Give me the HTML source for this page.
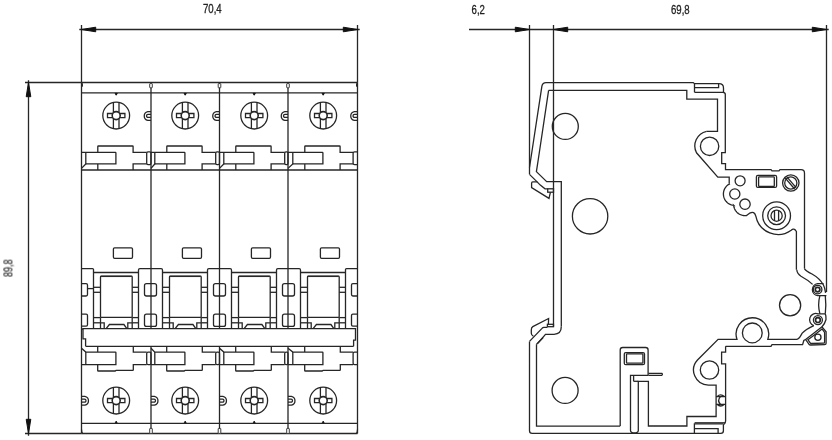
<!DOCTYPE html>
<html><head><meta charset="utf-8"><style>
html,body{margin:0;padding:0;background:#fff;}
body{width:832px;height:440px;overflow:hidden;}
svg{display:block;}
svg .ln{fill:none;stroke:#262626;stroke-width:1.3;}
svg .ln path.fl{fill:#111;stroke:#111;stroke-width:1;stroke-linejoin:round;}
text{font-family:"Liberation Sans",sans-serif;font-size:12px;fill:#222;stroke:#222;stroke-width:0.3;}
</style></head><body>
<svg width="832" height="440" viewBox="0 0 832 440">
<rect width="832" height="440" fill="#fff"/>
<g class="ln">
<path d="M81.5 25L81.5 82.5"/>
<path d="M357.5 25L357.5 82.5"/>
<path d="M79.3 29.5L359.7 29.5"/>
<path class="fl" d="M81.5 29.5L95.7 27.2L95.7 31.8Z"/>
<path class="fl" d="M357.5 29.5L343.3 31.8L343.3 27.2Z"/>
<path d="M25 82.5L81.5 82.5"/>
<path d="M25 433.5L81.5 433.5"/>
<path d="M28.5 80.3L28.5 435.7"/>
<path class="fl" d="M28.5 82.5L30.8 96.7L26.2 96.7Z"/>
<path class="fl" d="M28.5 433.5L26.2 419.3L30.8 419.3Z"/>
<path d="M469 29.5L828.7 29.5"/>
<path d="M529.5 25L529.5 174.3"/>
<path d="M553.5 25L553.5 326.6"/>
<path d="M826.5 25L826.5 292"/>
<path class="fl" d="M529.5 29.5L515.3 31.8L515.3 27.2Z"/>
<path class="fl" d="M553.5 29.5L567.7 27.2L567.7 31.8Z"/>
<path class="fl" d="M826.5 29.5L812.3 31.8L812.3 27.2Z"/>
<path d="M81.5 82.5L357.5 82.5"/>
<path d="M81.5 92.8L357.5 92.8"/>
<path d="M81.5 170L357.5 170"/>
<path d="M81.5 423.3L357.5 423.3"/>
<path d="M81.5 433.5L357.5 433.5"/>
<path d="M85.6 346.3L353.6 346.3"/>
<path d="M81.5 82.5L81.5 433.5"/>
<path d="M151 82.5L151 328.6"/>
<path d="M151 346.3L151 433.5"/>
<path d="M219.5 82.5L219.5 328.6"/>
<path d="M219.5 346.3L219.5 433.5"/>
<path d="M288 82.5L288 328.6"/>
<path d="M288 346.3L288 433.5"/>
<path d="M357.5 82.5L357.5 433.5"/>
<circle cx="116.2" cy="115.6" r="13.4"/>
<path d="M113.4 102.5L113.4 112.74"/>
<path d="M113.4 118.46L113.4 128.7"/>
<path d="M119 102.5L119 112.74"/>
<path d="M119 118.46L119 128.7"/>
<path d="M112.8 113.5H107.5V117.7H112.8"/>
<path d="M119.6 113.5H124.9V117.7H119.6"/>
<circle cx="116.2" cy="115.6" r="4" stroke-width="1.6"/>
<path class="fl" d="M115.1 93.4L117.3 93.4L116.2 95.2Z"/>
<path d="M151 111.6H147.8A4.5 4.5 0 0 0 147.8 120.4H151"/>
<path d="M151 114.4H148A1.5 1.5 0 0 0 148 117.4H151"/>
<path d="M97.8 152.4V146.6Q97.8 146 98.4 146H132.5 Q133.1 146 133.1 146.6V152.4H146.7"/>
<path d="M81.5 152.4H115.4Q115.9 152.4 115.9 152.9V163.9H85.8"/>
<path d="M85.8 152.4V163.9L81.5 168.4"/>
<path d="M97.8 163.9L97.8 170"/>
<path d="M133.1 170V163.9H146.7"/>
<rect x="146.7" y="151.9" width="4.3" height="12.7" rx="1.3"/>
<circle cx="116.2" cy="400.6" r="13.4"/>
<path d="M113.4 387.5L113.4 397.74"/>
<path d="M113.4 403.46L113.4 413.7"/>
<path d="M119 387.5L119 397.74"/>
<path d="M119 403.46L119 413.7"/>
<path d="M112.8 398.5H107.5V402.7H112.8"/>
<path d="M119.6 398.5H124.9V402.7H119.6"/>
<circle cx="116.2" cy="400.6" r="4" stroke-width="1.6"/>
<path class="fl" d="M115.3 422.6L117.1 422.6L116.2 421.2Z"/>
<path d="M81.5 396.4H84.9A4.5 4.5 0 0 1 84.9 405.2H81.5"/>
<path d="M81.5 399.2H84.5A1.5 1.5 0 0 1 84.5 402.2H81.5"/>
<path d="M81.5 348.2L85.8 352.1H115.4Q115.9 352.1 115.9 352.6V364.6H81.5"/>
<path d="M85.8 352.1L85.8 364.6"/>
<path d="M97.7 346.3L97.7 352.1"/>
<path d="M97.7 364.6V370.4Q97.7 371 98.3 371H115.1L116.1 370.4H132.7Q133.3 370.4 133.3 369.8V364.6H146.7"/>
<path d="M133.3 346.3V352.1H146.7"/>
<rect x="146.7" y="352.1" width="4.3" height="12.5" rx="1.3"/>
<rect x="113.4" y="247.8" width="19.1" height="10.5" rx="1.2"/>
<rect x="100.5" y="276.1" width="31.7" height="41.3" rx="0.8"/>
<path d="M101.1 276.4L131.6 276.4"/>
<path d="M93.5 287.3L100.5 287.3"/>
<path d="M132.2 287.3L138.5 287.3"/>
<path d="M93.5 292.3L100.5 292.3"/>
<path d="M132.2 292.3L138.5 292.3"/>
<path d="M93.5 317.6L100.5 317.6"/>
<path d="M132.2 317.6L138.5 317.6"/>
<path d="M93.5 322.8L100.5 322.8"/>
<path d="M132.2 322.8L138.5 322.8"/>
<path d="M93.5 272.5L138.5 272.5"/>
<path d="M100.5 322.8H104.2V328.6"/>
<path d="M132.2 322.8H127.8V328.6"/>
<path d="M100.5 317.4L100.5 328.6"/>
<path d="M132.2 317.4L132.2 328.6"/>
<path d="M106.1 328.6L109.4 324.5H123.9L126.9 328.6"/>
<circle cx="185.2" cy="115.6" r="13.4"/>
<path d="M182.4 102.5L182.4 112.74"/>
<path d="M182.4 118.46L182.4 128.7"/>
<path d="M188 102.5L188 112.74"/>
<path d="M188 118.46L188 128.7"/>
<path d="M181.8 113.5H176.5V117.7H181.8"/>
<path d="M188.6 113.5H193.9V117.7H188.6"/>
<circle cx="185.2" cy="115.6" r="4" stroke-width="1.6"/>
<path class="fl" d="M184.1 93.4L186.3 93.4L185.2 95.2Z"/>
<path d="M219.5 111.6H216.3A4.5 4.5 0 0 0 216.3 120.4H219.5"/>
<path d="M219.5 114.4H216.5A1.5 1.5 0 0 0 216.5 117.4H219.5"/>
<path d="M166.8 152.4V146.6Q166.8 146 167.4 146H201.5 Q202.1 146 202.1 146.6V152.4H215.7"/>
<path d="M151 152.4H184.4Q184.9 152.4 184.9 152.9V163.9H154.8"/>
<path d="M154.8 152.4V163.9L151 168.4"/>
<path d="M166.8 163.9L166.8 170"/>
<path d="M202.1 170V163.9H215.7"/>
<rect x="215.7" y="151.9" width="3.8" height="12.7" rx="1.3"/>
<rect x="149.7" y="83.6" width="2.6" height="4.2" rx="0.5" stroke-width="0.9" fill="#fff"/>
<rect x="149.7" y="428.4" width="2.6" height="5" rx="0.5" stroke-width="0.9" fill="#fff"/>
<circle cx="185.2" cy="400.6" r="13.4"/>
<path d="M182.4 387.5L182.4 397.74"/>
<path d="M182.4 403.46L182.4 413.7"/>
<path d="M188 387.5L188 397.74"/>
<path d="M188 403.46L188 413.7"/>
<path d="M181.8 398.5H176.5V402.7H181.8"/>
<path d="M188.6 398.5H193.9V402.7H188.6"/>
<circle cx="185.2" cy="400.6" r="4" stroke-width="1.6"/>
<path class="fl" d="M184.3 422.6L186.1 422.6L185.2 421.2Z"/>
<path d="M151 396.4H154.4A4.5 4.5 0 0 1 154.4 405.2H151"/>
<path d="M151 399.2H154A1.5 1.5 0 0 1 154 402.2H151"/>
<path d="M151 348.2L154.8 352.1H184.4Q184.9 352.1 184.9 352.6V364.6H151"/>
<path d="M154.8 352.1L154.8 364.6"/>
<path d="M166.7 346.3L166.7 352.1"/>
<path d="M166.7 364.6V370.4Q166.7 371 167.3 371H184.1L185.1 370.4H201.7Q202.3 370.4 202.3 369.8V364.6H215.7"/>
<path d="M202.3 346.3V352.1H215.7"/>
<rect x="215.7" y="352.1" width="3.8" height="12.5" rx="1.3"/>
<rect x="182.4" y="247.8" width="19.1" height="10.5" rx="1.2"/>
<rect x="169.5" y="276.1" width="31.7" height="41.3" rx="0.8"/>
<path d="M170.1 276.4L200.6 276.4"/>
<path d="M162.5 287.3L169.5 287.3"/>
<path d="M201.2 287.3L207.5 287.3"/>
<path d="M162.5 292.3L169.5 292.3"/>
<path d="M201.2 292.3L207.5 292.3"/>
<path d="M162.5 317.6L169.5 317.6"/>
<path d="M201.2 317.6L207.5 317.6"/>
<path d="M162.5 322.8L169.5 322.8"/>
<path d="M201.2 322.8L207.5 322.8"/>
<path d="M162.5 272.5L207.5 272.5"/>
<path d="M169.5 322.8H173.2V328.6"/>
<path d="M201.2 322.8H196.8V328.6"/>
<path d="M169.5 317.4L169.5 328.6"/>
<path d="M201.2 317.4L201.2 328.6"/>
<path d="M175.1 328.6L178.4 324.5H192.9L195.9 328.6"/>
<circle cx="254.2" cy="115.6" r="13.4"/>
<path d="M251.4 102.5L251.4 112.74"/>
<path d="M251.4 118.46L251.4 128.7"/>
<path d="M257 102.5L257 112.74"/>
<path d="M257 118.46L257 128.7"/>
<path d="M250.8 113.5H245.5V117.7H250.8"/>
<path d="M257.6 113.5H262.9V117.7H257.6"/>
<circle cx="254.2" cy="115.6" r="4" stroke-width="1.6"/>
<path class="fl" d="M253.1 93.4L255.3 93.4L254.2 95.2Z"/>
<path d="M288 111.6H284.8A4.5 4.5 0 0 0 284.8 120.4H288"/>
<path d="M288 114.4H285A1.5 1.5 0 0 0 285 117.4H288"/>
<path d="M235.8 152.4V146.6Q235.8 146 236.4 146H270.5 Q271.1 146 271.1 146.6V152.4H284.7"/>
<path d="M219.5 152.4H253.4Q253.9 152.4 253.9 152.9V163.9H223.8"/>
<path d="M223.8 152.4V163.9L219.5 168.4"/>
<path d="M235.8 163.9L235.8 170"/>
<path d="M271.1 170V163.9H284.7"/>
<rect x="284.7" y="151.9" width="3.3" height="12.7" rx="1.3"/>
<rect x="218.2" y="83.6" width="2.6" height="4.2" rx="0.5" stroke-width="0.9" fill="#fff"/>
<rect x="218.2" y="428.4" width="2.6" height="5" rx="0.5" stroke-width="0.9" fill="#fff"/>
<circle cx="254.2" cy="400.6" r="13.4"/>
<path d="M251.4 387.5L251.4 397.74"/>
<path d="M251.4 403.46L251.4 413.7"/>
<path d="M257 387.5L257 397.74"/>
<path d="M257 403.46L257 413.7"/>
<path d="M250.8 398.5H245.5V402.7H250.8"/>
<path d="M257.6 398.5H262.9V402.7H257.6"/>
<circle cx="254.2" cy="400.6" r="4" stroke-width="1.6"/>
<path class="fl" d="M253.3 422.6L255.1 422.6L254.2 421.2Z"/>
<path d="M219.5 396.4H222.9A4.5 4.5 0 0 1 222.9 405.2H219.5"/>
<path d="M219.5 399.2H222.5A1.5 1.5 0 0 1 222.5 402.2H219.5"/>
<path d="M219.5 348.2L223.8 352.1H253.4Q253.9 352.1 253.9 352.6V364.6H219.5"/>
<path d="M223.8 352.1L223.8 364.6"/>
<path d="M235.7 346.3L235.7 352.1"/>
<path d="M235.7 364.6V370.4Q235.7 371 236.3 371H253.1L254.1 370.4H270.7Q271.3 370.4 271.3 369.8V364.6H284.7"/>
<path d="M271.3 346.3V352.1H284.7"/>
<rect x="284.7" y="352.1" width="3.3" height="12.5" rx="1.3"/>
<rect x="251.4" y="247.8" width="19.1" height="10.5" rx="1.2"/>
<rect x="238.5" y="276.1" width="31.7" height="41.3" rx="0.8"/>
<path d="M239.1 276.4L269.6 276.4"/>
<path d="M231.5 287.3L238.5 287.3"/>
<path d="M270.2 287.3L276.5 287.3"/>
<path d="M231.5 292.3L238.5 292.3"/>
<path d="M270.2 292.3L276.5 292.3"/>
<path d="M231.5 317.6L238.5 317.6"/>
<path d="M270.2 317.6L276.5 317.6"/>
<path d="M231.5 322.8L238.5 322.8"/>
<path d="M270.2 322.8L276.5 322.8"/>
<path d="M231.5 272.5L276.5 272.5"/>
<path d="M238.5 322.8H242.2V328.6"/>
<path d="M270.2 322.8H265.8V328.6"/>
<path d="M238.5 317.4L238.5 328.6"/>
<path d="M270.2 317.4L270.2 328.6"/>
<path d="M244.1 328.6L247.4 324.5H261.9L264.9 328.6"/>
<circle cx="323.2" cy="115.6" r="13.4"/>
<path d="M320.4 102.5L320.4 112.74"/>
<path d="M320.4 118.46L320.4 128.7"/>
<path d="M326 102.5L326 112.74"/>
<path d="M326 118.46L326 128.7"/>
<path d="M319.8 113.5H314.5V117.7H319.8"/>
<path d="M326.6 113.5H331.9V117.7H326.6"/>
<circle cx="323.2" cy="115.6" r="4" stroke-width="1.6"/>
<path class="fl" d="M322.1 93.4L324.3 93.4L323.2 95.2Z"/>
<path d="M357.5 111.6H354.3A4.5 4.5 0 0 0 354.3 120.4H357.5"/>
<path d="M357.5 114.4H354.5A1.5 1.5 0 0 0 354.5 117.4H357.5"/>
<path d="M304.8 152.4V146.6Q304.8 146 305.4 146H339.5 Q340.1 146 340.1 146.6V152.4H353.1"/>
<path d="M288 152.4H322.4Q322.9 152.4 322.9 152.9V163.9H292.8"/>
<path d="M292.8 152.4V163.9L288 168.4"/>
<path d="M304.8 163.9L304.8 170"/>
<path d="M340.1 170V163.9H353.1"/>
<path d="M357.5 151.8H354.5Q353.1 151.8 353.1 153.2V163.2Q353.1 164.6 354.5 164.6H357.5"/>
<rect x="286.7" y="83.6" width="2.6" height="4.2" rx="0.5" stroke-width="0.9" fill="#fff"/>
<rect x="286.7" y="428.4" width="2.6" height="5" rx="0.5" stroke-width="0.9" fill="#fff"/>
<circle cx="323.2" cy="400.6" r="13.4"/>
<path d="M320.4 387.5L320.4 397.74"/>
<path d="M320.4 403.46L320.4 413.7"/>
<path d="M326 387.5L326 397.74"/>
<path d="M326 403.46L326 413.7"/>
<path d="M319.8 398.5H314.5V402.7H319.8"/>
<path d="M326.6 398.5H331.9V402.7H326.6"/>
<circle cx="323.2" cy="400.6" r="4" stroke-width="1.6"/>
<path class="fl" d="M322.3 422.6L324.1 422.6L323.2 421.2Z"/>
<path d="M288 396.4H291.4A4.5 4.5 0 0 1 291.4 405.2H288"/>
<path d="M288 399.2H291A1.5 1.5 0 0 1 291 402.2H288"/>
<path d="M288 348.2L292.8 352.1H322.4Q322.9 352.1 322.9 352.6V364.6H288"/>
<path d="M292.8 352.1L292.8 364.6"/>
<path d="M304.7 346.3L304.7 352.1"/>
<path d="M304.7 364.6V370.4Q304.7 371 305.3 371H322.1L323.1 370.4H339.7Q340.3 370.4 340.3 369.8V364.6H353.1"/>
<path d="M340.3 346.3V352.1H353.1"/>
<path d="M357.5 352.1H354.5Q353.1 352.1 353.1 353.5V363.2Q353.1 364.6 354.5 364.6H357.5"/>
<rect x="320.4" y="247.8" width="19.1" height="10.5" rx="1.2"/>
<rect x="307.5" y="276.1" width="31.7" height="41.3" rx="0.8"/>
<path d="M308.1 276.4L338.6 276.4"/>
<path d="M300.5 287.3L307.5 287.3"/>
<path d="M339.2 287.3L345.5 287.3"/>
<path d="M300.5 292.3L307.5 292.3"/>
<path d="M339.2 292.3L345.5 292.3"/>
<path d="M300.5 317.6L307.5 317.6"/>
<path d="M339.2 317.6L345.5 317.6"/>
<path d="M300.5 322.8L307.5 322.8"/>
<path d="M339.2 322.8L345.5 322.8"/>
<path d="M300.5 272.5L345.5 272.5"/>
<path d="M307.5 322.8H311.2V328.6"/>
<path d="M339.2 322.8H334.8V328.6"/>
<path d="M307.5 317.4L307.5 328.6"/>
<path d="M339.2 317.4L339.2 328.6"/>
<path d="M313.1 328.6L316.4 324.5H330.9L333.9 328.6"/>
<path d="M81.5 268.6H92.5Q93.5 268.6 93.5 269.6V328.6"/>
<path d="M81.5 283.6H86.1Q87.5 283.6 87.5 285V294.6Q87.5 296 86.1 296H81.5"/>
<path d="M81.5 314.2H86.1Q87.5 314.2 87.5 315.6V324.8Q87.5 326.2 86.1 326.2H81.5"/>
<path d="M87.5 288.6L93.5 288.6"/>
<path d="M138.5 328.6V270Q138.5 268.6 139.9 268.6H161.1Q162.5 268.6 162.5 270V328.6"/>
<rect x="144.5" y="283.6" width="12" height="12.4" rx="2"/>
<rect x="144.5" y="314.2" width="12" height="12.2" rx="2"/>
<path d="M207.5 328.6V270Q207.5 268.6 208.9 268.6H230.1Q231.5 268.6 231.5 270V328.6"/>
<rect x="213.5" y="283.6" width="12" height="12.4" rx="2"/>
<rect x="213.5" y="314.2" width="12" height="12.2" rx="2"/>
<path d="M276.5 328.6V270Q276.5 268.6 277.9 268.6H299.1Q300.5 268.6 300.5 270V328.6"/>
<rect x="282.5" y="283.6" width="12" height="12.4" rx="2"/>
<rect x="282.5" y="314.2" width="12" height="12.2" rx="2"/>
<path d="M357.5 268.6H346.5Q345.5 268.6 345.5 269.6V328.6"/>
<path d="M357.5 283.6H352.9Q351.5 283.6 351.5 285V294.6Q351.5 296 352.9 296H357.5"/>
<path d="M357.5 314.2H352.9Q351.5 314.2 351.5 315.6V324.8Q351.5 326.2 352.9 326.2H357.5"/>
<path d="M81.5 82.5Q82.6 83.2 82.3 86.6"/>
<path d="M357.5 82.5Q356.4 83.2 356.7 86.6"/>
<path d="M81.5 429.5Q81.6 432.6 82.6 433.5"/>
<path d="M357.5 429.5Q357.4 432.6 356.4 433.5"/>
<path d="M83 328.6H355.5V340.2H353.6V346.3"/>
<path d="M83 328.6V338.8H85.6V346.3"/>
<path d="M83 328.6 L81.5 329.6"/>
<path d="M529.5 167.5L541.9 86.2Q542.6 82.6 546 82.6H693.2L694.5 83.7H719Q723.5 83.7 723.5 88V92.2"/>
<path d="M694.5 83.7L694.5 92.3"/>
<path d="M694.5 87.6H718.6V83.7"/>
<path d="M694.5 92.3H723Q725.3 92.3 725.3 94.5V152.7H721.7V163.6H725.5V169.7H771L772 170.9H779L780 169.7H801Q804.5 169.7 804.5 173.2V268.8"/>
<path d="M548.6 90.4H686.8V99.2H717.5V131.3H706.6"/>
<path d="M548.6 90.4L538.2 160L536.4 171.6L546.7 181.7H561.3V326.6"/>
<path d="M529.5 174.4C533 177.8 537 181.8 540.3 185.1L545 188.8H547.7"/>
<rect x="547.7" y="188.8" width="5.8" height="3.4"/>
<path d="M537.4 181.8H532.8Q531.6 181.8 531.6 183.2V187.6L549 198.4L550.2 193.2L550.6 192.2"/>
<circle cx="565.3" cy="126.4" r="13"/>
<circle cx="590.1" cy="216.3" r="17.7"/>
<circle cx="709.6" cy="146.3" r="9.2"/>
<circle cx="565.1" cy="390.4" r="13"/>
<circle cx="709.5" cy="370" r="9.2"/>
<circle cx="752.3" cy="332.9" r="9.9"/>
<circle cx="790.1" cy="305.2" r="10.6"/>
<path d="M706.6 131.3A15 15 0 0 0 696.5 152.8L717.8 177.2H729.2V183.5"/>
<path d="M729.2 183.5 L729.44 183.94 L728.4 184.57 L727.43 185.3 L726.55 186.13 L725.76 187.05 L725.08 188.05 L724.5 189.12 L724.04 190.24 L723.7 191.4 L723.49 192.59 L723.4 193.8 L723.45 195.01 L723.62 196.21 L723.91 197.39 L724.34 198.52 L724.87 199.61 L725.53 200.63 L726.28 201.58 L727.13 202.44 L728.07 203.2 L729.09 203.87 L730.17 204.42 L731.3 204.85 L732.47 205.16 L733.67 205.34 L733.66 205.33 L733.76 206.09 L733.91 206.84 L734.11 207.57 L734.36 208.29 L734.66 208.99 L735 209.67 L735.39 210.33 L735.82 210.96 L736.29 211.56 L736.8 212.12 L737.35 212.65 L737.93 213.15 L738.55 213.6 L739.19 214.01 L739.86 214.38 L740.55 214.7 L741.26 214.97 L741.99 215.2 L742.73 215.37 L743.49 215.5 L744.24 215.57 L745.01 215.6 L745.77 215.57 L746.53 215.5 Q751 211.4 753.6 212.6Q755.2 213.6 755.9 216.4A22.6 22.6 0 0 0 791.2 230.2Q794 227.5 796.4 231.5V269.8"/>
<circle cx="740.1" cy="180.8" r="5"/>
<circle cx="734.8" cy="194" r="5.1"/>
<circle cx="745" cy="204.2" r="5.2"/>
<rect x="756.4" y="175.4" width="20.2" height="12" rx="1.5"/>
<rect x="758.6" y="176.9" width="15.7" height="9.5" rx="0.6"/>
<circle cx="790.8" cy="183" r="8.2"/>
<circle cx="790.8" cy="183" r="6.1"/>
<path d="M786.43 176.34L796.11 187.67"/>
<path d="M784.91 177.64L794.59 188.97"/>
<circle cx="776.6" cy="215.7" r="13.9"/>
<circle cx="776.6" cy="215.7" r="8.9"/>
<circle cx="776.6" cy="215.7" r="5.6"/>
<path d="M774.5 210.5V220.9M778.6 210.5V220.9"/>
<path d="M796.8 269.8Q797 273.5 801 276.2Q808 280 812.6 284.4"/>
<path d="M804.5 268.8Q806 271 812 274Q820 278.5 823.3 284.8Q825 288 825.6 292.8"/>
<path d="M823.6 283.7H817.6A6 6 0 0 0 817.6 295.6H826.4"/>
<circle cx="817.6" cy="289.6" r="4.3"/>
<circle cx="817.6" cy="289.6" r="2.3" stroke-width="1.7"/>
<path d="M819.9 295.6Q817.4 304.7 819.9 313.8"/>
<path d="M825.3 295.6Q826.3 304.7 825.3 313.8"/>
<path d="M825.3 313.8H817.9A6.1 6.1 0 0 0 813.8 325.6"/>
<circle cx="817.9" cy="320.1" r="4.5"/>
<circle cx="817.9" cy="320.1" r="2.4" stroke-width="1.7"/>
<path d="M825.3 313.8Q826.2 316 826 319.5Q825 323.5 822 326.8"/>
<path d="M822 326.8L826.1 331.8V343.2Q826.1 344.6 824.6 344.6L810.6 345Q809.6 345 808.9 344.2L805.6 339.5Q813 334 822 326.8Z"/>
<path d="M822 328.9L824.6 332.4V342.2Q824.6 343.2 823.6 343.2L811.2 343.5Q810.6 343.5 810.2 342.9L807.9 339.7Q814.5 335 822 328.9Z"/>
<circle cx="817.9" cy="337.3" r="3.1"/>
<path d="M813.8 325.6C809.5 327.6 805.2 329.6 802.2 333.2C800.2 336.2 799.2 339.4 796.5 339.4H767.8A16.3 16.3 0 1 0 737 339.4H718.1L697.5 360A15 15 0 0 0 708.4 385.1H716.1V416.5H686.9V426H648.4V381.3H638.3V430.4A3.9 2.4 0 0 1 630.5 430.4V375.3H648.4"/>
<path d="M805.6 339.5L803.8 340.5L802.6 344.6H781L780.4 344.7H772L771 346.3H725.6"/>
<path d="M648.4 373.3H661.8Q663 374.3 661.8 375.3H648.4"/>
<path d="M633.6 375.3V381.3"/>
<path d="M633.6 381.3H638.3"/>
<path d="M620.2 426V350Q620.2 347.5 622.7 347.5H645.6Q648.1 347.5 648.1 350V375.3"/>
<rect x="624.3" y="352.6" width="20.2" height="12.1" rx="1.5"/>
<rect x="626.5" y="353.8" width="16.4" height="9.4" rx="0.6"/>
<path d="M725.6 346.3V352.2H721.6V363.8H725.6V421Q725.6 423.4 723.4 425V430.7Q723.4 433.3 720.8 433.3H532.1Q529.5 433.3 529.5 430.7V341.4"/>
<path d="M694.4 433.3V423.8H723.4"/>
<path d="M694.6 422.8H725.4"/>
<path d="M694.4 428.6H718.1V433.3"/>
<path d="M716.1 396.6H725.5M716.1 404.3H725.5"/>
<path d="M717 396.6Q720.6 393.2 724.4 396.6M717 404.3Q720.6 407.7 724.4 404.3"/>
<path d="M720.4 396.6Q716.9 400.45 720.4 404.3"/>
<path d="M536.5 344.2V426.2H620.2"/>
<path d="M536.5 344.2L543.2 337.6"/>
<path d="M529.5 341.4L542 328.4Q542.8 327.4 544 327.4H547.4"/>
<rect x="547.4" y="324.3" width="6.1" height="2.4"/>
<path d="M561.3 326.6Q561.3 334.3 554 334.3H545.5L537.8 343.2"/>
<path d="M548.4 324.2L548.6 318.5L532.8 326.6Q531.3 327.5 531.3 330V333.2Q531.4 335.2 533.4 336.3"/>
</g>
<g style="filter:grayscale(1)">
<text transform="translate(203 12.8) scale(0.8 1)">70,4</text>
<text transform="translate(471.6 13.9) scale(0.8 1)">6,2</text>
<text transform="translate(671 13.9) scale(0.8 1)">69,8</text>
<text transform="translate(12.4 276.9) rotate(-90) scale(0.75 1)" style="stroke-width:0.15">89,8</text>
</g>
</svg>
</body></html>
